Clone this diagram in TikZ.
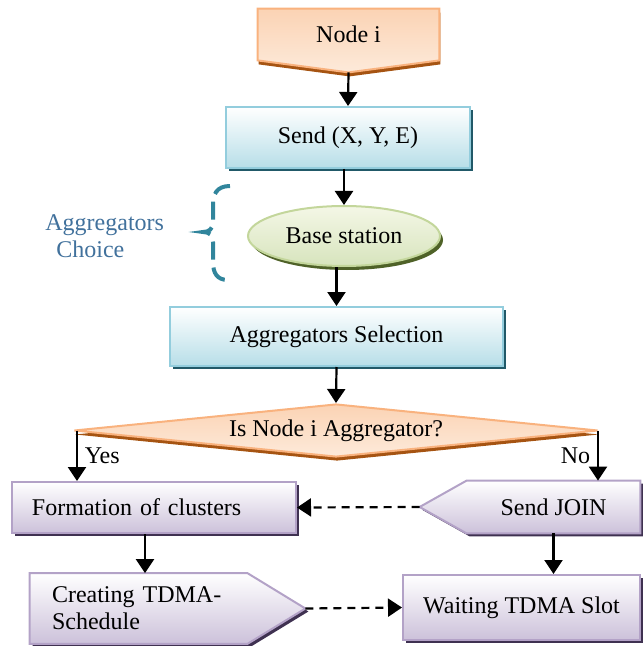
\documentclass[tikz,border=0pt]{standalone}
\usepackage{fontspec}
\setmainfont{Liberation Serif}
\usetikzlibrary{arrows.meta, shapes.geometric, shadows, backgrounds}

\definecolor{blueline}{HTML}{93CDDD}
\definecolor{bluefill}{HTML}{B7DEE8}
\definecolor{blueshadow}{HTML}{215968}
\definecolor{orangeline}{HTML}{F9B27E}
\definecolor{orangetop}{HTML}{FBD3B4}
\definecolor{orangefill}{HTML}{FDEADA}
\definecolor{orangeshadow}{HTML}{A65412}
\definecolor{greenline}{HTML}{C3D69B}
\definecolor{greentop}{HTML}{F4F7E6}
\definecolor{greenfill}{HTML}{D7E4BD}
\definecolor{greenshadow}{HTML}{4F6228}
\definecolor{purpleline}{HTML}{B3A2C7}
\definecolor{purplefill}{HTML}{CCC1DA}
\definecolor{purpleshadow}{HTML}{3F3151}
\definecolor{choiceblue}{HTML}{41719C}
\definecolor{bracketteal}{HTML}{31859C}

\begin{document}
\begin{tikzpicture}[
    x=0.5pt, y=-0.5pt,
    font=\fontsize{12}{13}\selectfont,
    box/.style={rectangle, draw, line width=1pt, inner sep=0pt, align=center},
    bluebox/.style={box, draw=blueline, top color=white, bottom color=bluefill,
        drop shadow={shadow xshift=1.5pt, shadow yshift=-1.5pt, fill=blueshadow, opacity=1}},
    purplebox/.style={box, draw=purpleline, top color=white, bottom color=purplefill,
        drop shadow={shadow xshift=1.5pt, shadow yshift=-1.5pt, fill=purpleshadow, opacity=1}},
    greenoval/.style={ellipse, draw=greenline, line width=1pt, inner sep=0pt,
        top color=greentop, bottom color=greenfill,
        drop shadow={shadow xshift=1.5pt, shadow yshift=-2pt, fill=greenshadow, opacity=1}},
    orangediamond/.style={diamond, aspect=9.7, draw=orangeline, line width=1pt, inner sep=0pt,
        top color=orangetop, bottom color=orangefill,
        drop shadow={shadow xshift=0.5pt, shadow yshift=-2pt, fill=orangeshadow, opacity=1}},
    orangeshape/.style={draw=orangeline, line width=1pt, top color=orangetop, bottom color=orangefill,
        drop shadow={shadow xshift=0.5pt, shadow yshift=-2pt, fill=orangeshadow, opacity=1}},
    purpleshape/.style={draw=purpleline, line width=1pt, top color=white, bottom color=purplefill,
        drop shadow={shadow xshift=1.5pt, shadow yshift=-1.5pt, fill=purpleshadow, opacity=1}},
    shapetext/.style={rectangle, inner sep=0pt, align=center},
    arrow/.style={-{Triangle[width=9pt, length=7pt]}, line width=1.1pt},
    dasharrow/.style={arrow, dash pattern=on 4pt off 3pt}
]
\useasboundingbox (0,0) rectangle (642,646);

% Steps
\node[shapetext, minimum width=90.5pt, minimum height=25.5pt] (nodei) at (348.5,34.5) {Node i};
\node[bluebox, minimum width=122pt, minimum height=30.5pt] (send) at (348,137.5) {Send (X, Y, E)};
\node[greenoval, minimum width=96pt, minimum height=30pt] (base) at (344,236) {Base station};
\node[bluebox, minimum width=166.5pt, minimum height=29.5pt] (aggsel) at (336.5,336.5) {Aggregators Selection};
\node[orangediamond, minimum width=262pt, minimum height=26.5pt] (decide) at (336,430.5) {Is Node i Aggregator?};
\node[purplebox, minimum width=142pt, minimum height=25.5pt, text width=122pt, align=left] (formation) at (154,507.5) {Formation of clusters};
\node[shapetext, minimum width=86.5pt, minimum height=26pt] (sendjoin) at (553.5,507) {Send JOIN};
\node[shapetext, minimum width=108.5pt, minimum height=35pt, text width=86.5pt, align=left,
      font=\fontsize{12}{13.5}\selectfont] (creating) at (138.5,608.5) {Creating TDMA-\\Schedule};
\node[purplebox, minimum width=118.5pt, minimum height=32.5pt] (waiting) at (521.5,607.5) {Waiting TDMA Slot};

% Pointed outlines behind the text
\begin{pgfonlayer}{background}
  \path[orangeshape] (nodei.north west) -- (nodei.north east) -- (nodei.south east)
    -- ([yshift=-6pt]nodei.south) -- (nodei.south west) -- cycle;
  \path[purpleshape] (sendjoin.north west) -- (sendjoin.north east) -- (sendjoin.south east)
    -- (sendjoin.south west) -- ([xshift=-23.5pt]sendjoin.west) -- cycle;
  \path[purpleshape] (creating.north west) -- (creating.north east) -- ([xshift=29pt]creating.east)
    -- (creating.south east) -- (creating.south west) -- cycle;
\end{pgfonlayer}

% Aggregators choice bracket
\node[anchor=west, inner sep=0pt, align=left, text=choiceblue, font=\fontsize{12}{13.5}\selectfont] (choice) at (45,236) {Aggregators\\\hspace*{5.5pt}Choice};
\draw[bracketteal, line width=2pt, dash pattern=on 9pt off 4pt]
  (230,186) .. controls (216,186) and (213,195) .. (213,205) -- (213,222)
  .. controls (213,229) and (209,232) .. (203,232)
  .. controls (209,232) and (213,235) .. (213,242) -- (213,262)
  .. controls (213,273) and (217,280) .. (228,280);

% Arrows
\draw[arrow] ([yshift=-6pt]nodei.south) -- (send.north);
\draw[arrow] (base.north |- send.south) -- (base.north);
\draw[arrow] (aggsel.north |- base.south) -- (aggsel.north);
\draw[arrow] (aggsel.south) -- (decide.north);
\draw[arrow] ([xshift=2pt]decide.west) -- ([xshift=2pt]decide.west |- formation.north) node[midway, right] {Yes};
\draw[arrow] ([xshift=-0.5pt]decide.east) -- ([xshift=-0.5pt]decide.east |- sendjoin.north) node[midway, left] {No};
\draw[dasharrow] ([xshift=-23.5pt]sendjoin.west) -- (formation.east);
\draw[arrow] ([xshift=-4.5pt]formation.south) -- ([xshift=-4.5pt]formation.south |- creating.north);
\draw[arrow] (sendjoin.south) -- (sendjoin.south |- waiting.north);
\draw[dasharrow] ([xshift=29pt]creating.east) -- (waiting.west);

\end{tikzpicture}
\end{document}
